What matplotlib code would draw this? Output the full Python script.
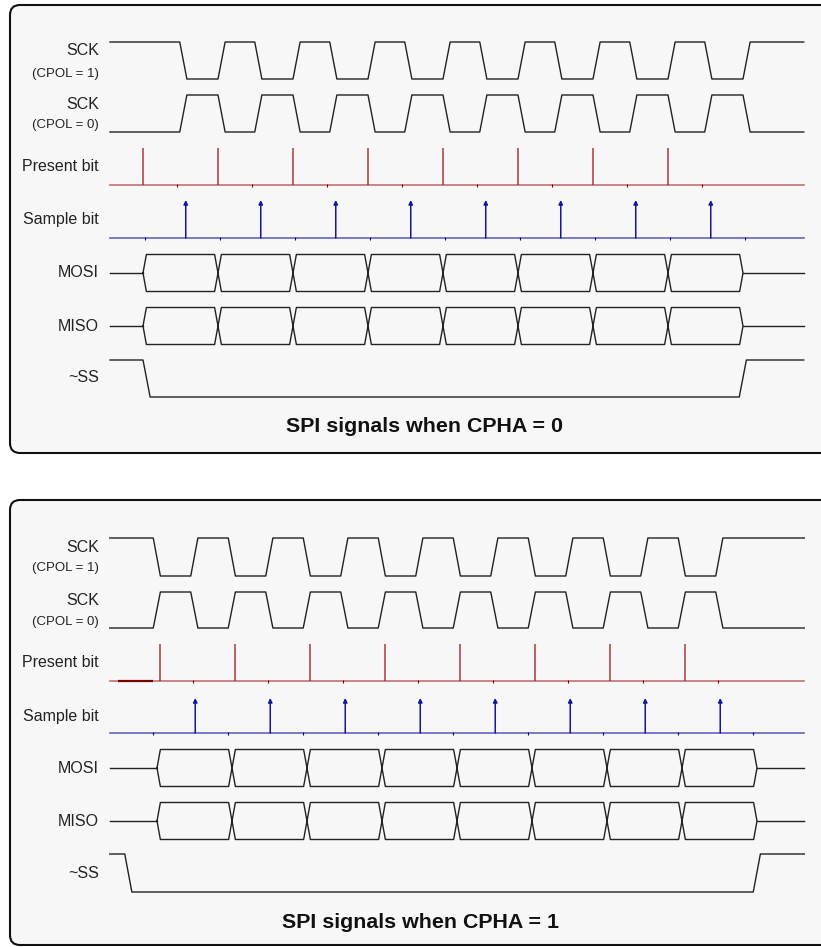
import matplotlib.pyplot as plt
from matplotlib.patches import FancyBboxPatch

plt.rcParams['font.family'] = ['Liberation Sans', 'DejaVu Sans']

# --- data (time in bit periods) ---
labels = ['SCK', '(CPOL = 1)', 'SCK', '(CPOL = 0)', 'Present bit', 'Sample bit', 'MOSI', 'MISO', '~SS']
titles = ['SPI signals when CPHA = 0', 'SPI signals when CPHA = 1']

# CPHA = 0
a_span = (-0.44, 8.81)
a_sck_fall = [0.49, 1.49, 2.49, 3.49, 4.49, 5.49, 6.49, 7.49]
a_sck_rise = [1.0, 2.0, 3.0, 4.0, 5.0, 6.0, 7.0, 8.0]
a_present = [0.0, 1.0, 2.0, 3.0, 4.0, 5.0, 6.0, 7.0]
a_sample = [0.57, 1.57, 2.57, 3.57, 4.57, 5.57, 6.57, 7.57]
a_cells = [0, 1, 2, 3, 4, 5, 6, 7, 8]
a_ss = (0.0, 7.95)
a_present_ticks = [0.45, 1.45, 2.45, 3.45, 4.45, 5.45, 6.45, 7.45]
a_sample_ticks = [0.02, 1.02, 2.02, 3.02, 4.02, 5.02, 6.02, 7.02, 8.02]

# CPHA = 1
b_span = (-0.63, 8.63)
b_sck_fall = [-0.05, 0.95, 1.95, 2.95, 3.95, 4.95, 5.95, 6.95]
b_sck_rise = [0.45, 1.45, 2.45, 3.45, 4.45, 5.45, 6.45, 7.45]
b_present = [0.04, 1.04, 2.04, 3.04, 4.04, 5.04, 6.04, 7.04]
b_sample = [0.51, 1.51, 2.51, 3.51, 4.51, 5.51, 6.51, 7.51]
b_cells = [0, 1, 2, 3, 4, 5, 6, 7, 8]
b_ss = (-0.43, 7.95)
b_present_ticks = [0.48, 1.48, 2.48, 3.48, 4.48, 5.48, 6.48, 7.48]
b_sample_ticks = [-0.05, 0.95, 1.95, 2.95, 3.95, 4.95, 5.95, 6.95, 7.95]
b_present_hold = (-0.52, -0.05)

# --- layout (pixels) ---
W, H = 821, 947
BIT = 75.0
EDGE = 0.095
D = 0.045
BLACK = '#222222'
RED = '#a01818'
BLUE = '#1515a0'

fig = plt.figure(figsize=(W / 100, H / 100), dpi=100)
bg = fig.add_axes([0, 0, 1, 1])
bg.set_xlim(0, W)
bg.set_ylim(H, 0)
bg.axis('off')

for y0, h in [(5, 448), (500, 445)]:
    bg.add_patch(FancyBboxPatch((10, y0), 840, h, boxstyle='round,pad=0,rounding_size=10',
                                facecolor='#f7f7f7', edgecolor='#111111', linewidth=1.5))


def clock(span, falls, rises, hi, lo):
    xs, ys = [span[0]], [hi]
    for f, r in zip(falls, rises):
        xs += [f, f + EDGE, r, r + EDGE]
        ys += [hi, lo, lo, hi]
    xs.append(span[1])
    ys.append(hi)
    return xs, ys


def bus(ax, span, cells, mid, half):
    ax.plot([span[0], cells[0]], [mid, mid], color=BLACK, lw=1.0)
    ax.plot([cells[-1], span[1]], [mid, mid], color=BLACK, lw=1.0)
    for b0, b1 in zip(cells[:-1], cells[1:]):
        ax.plot([b0, b0 + D, b1 - D, b1, b1 - D, b0 + D, b0],
                [mid, mid - half, mid - half, mid, mid + half, mid + half, mid],
                color=BLACK, lw=1.0)


def panel(x0, span, falls, rises, present, sample, cells, ss, pticks, sticks, rows, hold=None):
    ax = fig.add_axes([0, 0, 1, 1])
    ax.set_xlim(-x0 / BIT, (W - x0) / BIT)
    ax.set_ylim(H, 0)
    ax.axis('off')
    (s1h, s1l), (s0h, s0l), (pb, pt), (sb, st), mosi, miso, (ssh, ssl) = rows

    xs, ys = clock(span, falls, rises, s1h, s1l)
    ax.plot(xs, ys, color=BLACK, lw=1.0)
    xs, ys = clock(span, falls, rises, s0l, s0h)
    ax.plot(xs, ys, color=BLACK, lw=1.0)

    ax.plot(span, [pb, pb], color=RED, lw=1.2, alpha=0.6)
    ax.vlines(present, pt, pb, color=RED, lw=1.1, alpha=0.85)
    ax.vlines(pticks, pb - 1.5, pb + 1.5, color='#7a0000', lw=0.8)
    if hold is not None:
        ax.plot(hold, [pb, pb], color='#7a0000', lw=1.6, solid_capstyle='butt')

    ax.plot(span, [sb, sb], color=BLUE, lw=1.2, alpha=0.65)
    for t in sample:
        ax.annotate('', xy=(t, st), xytext=(t, sb),
                    arrowprops=dict(arrowstyle='-|>', color=BLUE, lw=1.1,
                                    mutation_scale=6, shrinkA=0, shrinkB=0))
    ax.vlines(sticks, sb - 1.5, sb + 1.5, color='#000070', lw=0.8)

    bus(ax, span, cells, mosi, 18.5)
    bus(ax, span, cells, miso, 18.5)

    ax.plot([span[0], ss[0], ss[0] + EDGE, ss[1], ss[1] + EDGE, span[1]],
            [ssh, ssh, ssl, ssl, ssh, ssh], color=BLACK, lw=1.0)
    return ax


panel(143, a_span, a_sck_fall, a_sck_rise, a_present, a_sample, a_cells, a_ss,
      a_present_ticks, a_sample_ticks,
      [(42, 79), (95, 132), (185, 148), (238, 200), 273, 326, (360, 397)])
panel(157, b_span, b_sck_fall, b_sck_rise, b_present, b_sample, b_cells, b_ss,
      b_present_ticks, b_sample_ticks,
      [(538, 576), (592, 628), (681, 644), (733, 698), 768, 821, (854, 892)],
      hold=b_present_hold)

label_y = [[55, 76.5, 109, 128, 170.5, 223.5, 277, 331, 382],
           [552, 571, 605, 625, 667, 720.5, 772.5, 825.5, 878]]
small = {'(CPOL = 1)', '(CPOL = 0)'}
for ys in label_y:
    for lab, y in zip(labels, ys):
        bg.text(99, y, lab, ha='right', va='baseline', color=BLACK,
                fontsize=9.5 if lab in small else 11.5)

for (x, y), t in zip([(424, 432), (420, 928)], titles):
    bg.text(x, y, t, ha='center', va='baseline', fontsize=15.4, fontweight='bold', color='#111111')

plt.savefig('out.png', dpi=100)
